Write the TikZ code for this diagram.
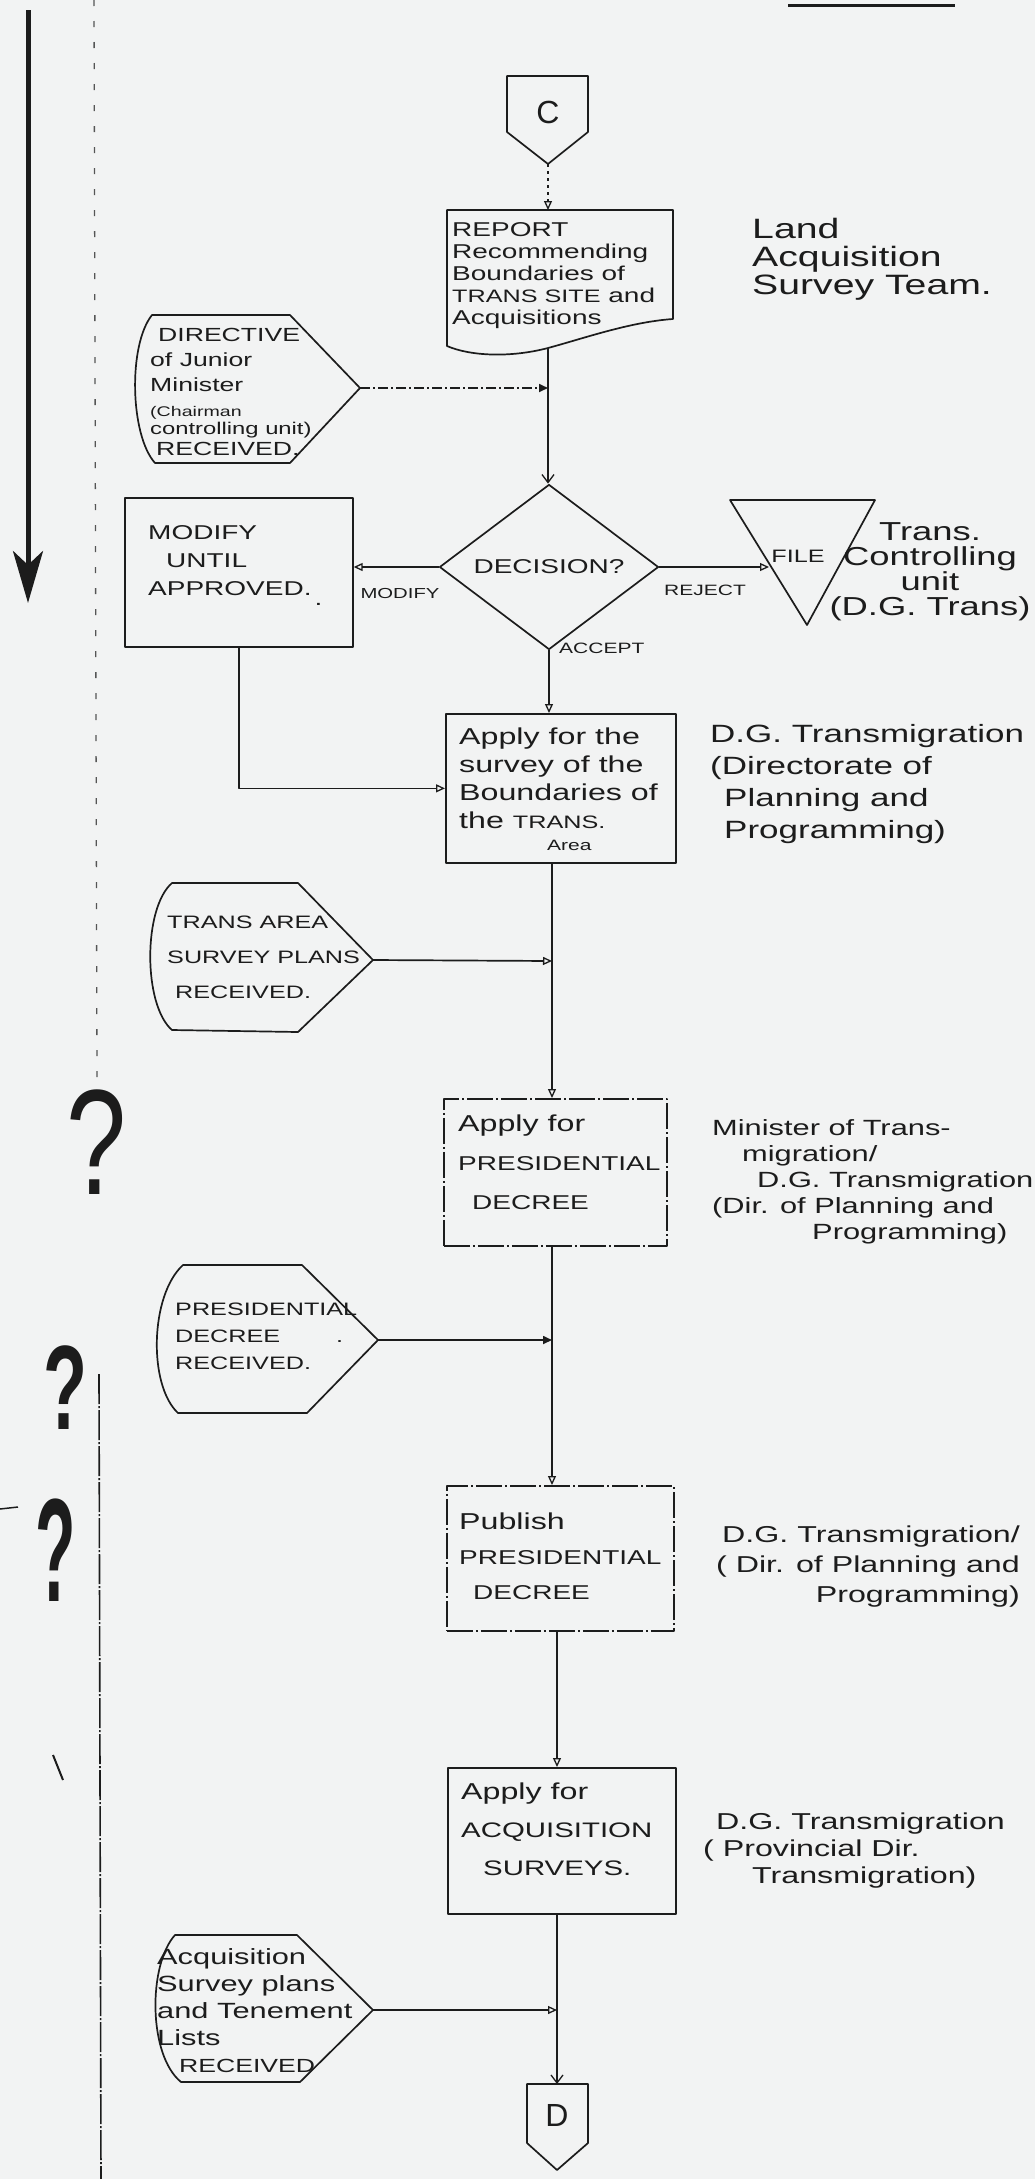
\documentclass[tikz,border=0pt]{standalone}
\usepackage{fontspec}
\setmainfont{Liberation Sans}[FakeStretch=1.4]
\newfontfamily\qfont{Liberation Sans}
\usetikzlibrary{arrows.meta,shapes.geometric,calc}
\definecolor{paper}{RGB}{242,243,243}
\definecolor{ink}{RGB}{28,28,28}
\newcommand\fsz[2]{\fontsize{#1}{#2}\selectfont}
\begin{document}
\begin{tikzpicture}[x=1pt,y=-1pt,ink,line join=round,
  flow/.style={draw=ink,line width=1.7pt},
  box/.style={draw=ink,line width=1.7pt,rectangle,inner sep=0,anchor=north west},
  brokenbox/.style={box,dash pattern=on 26pt off 3pt on 2pt off 3pt},
  txt/.style={inner sep=0,align=left,anchor=west,text=ink},
  lbl/.style={inner sep=0,text=ink},
  dashdot/.style={dash pattern=on 10pt off 3pt on 2pt off 3pt},
  arr/.style={-{Triangle[open,length=9pt,width=8pt,line width=1.3pt]}},
  farr/.style={-{Triangle[length=9pt,width=8pt]}},
  barb/.style={-{Straight Barb[length=8pt,width=12pt,line width=1.3pt]}}]
\fill[paper] (0,0) rectangle (1035,2179);
\useasboundingbox (0,0) rectangle (1035,2179);

% margin marks
\draw[line width=3pt] (788,5) -- (955,5);
\draw[line width=5pt,-{Stealth[length=52pt,width=30pt,inset=14pt]}] (28,10) -- (28,603);
\draw[ink!75,line width=1.3pt,dash pattern=on 6pt off 15pt] (94,0) -- (97,1083);
\draw[line width=1.6pt,dash pattern=on 30pt off 2pt on 2pt off 2pt] (99,1374) -- (101,2179);
\draw[line width=2pt] (53,1755) -- (63,1780);
\draw[line width=1.5pt] (0,1509) -- (18,1507);
\node[lbl] (q1) at (97,1142) {\qfont\fsz{150}{150}\scalebox{0.72}[1]{?}};
\node[lbl] (q2) at (65,1388) {\qfont\bfseries\fsz{120}{120}\scalebox{0.6}[1]{?}};
\node[lbl] (q3) at (56,1550) {\qfont\bfseries\fsz{147}{147}\scalebox{0.45}[1]{?}};

% connector C
\draw[flow] (507,76) -- (588,76) -- (588,132) -- (548,164) -- (507,132) -- cycle;
\node[lbl,font=\qfont\fsz{32}{32}] (C) at (548,112) {C};
\coordinate (Ctip) at (548,164);

% REPORT document
\draw[flow] (447,210) -- (673,210) -- (673,319) .. controls (630,322) and (585,338) .. (548,348)
  .. controls (510,358) and (470,356) .. (447,346) -- cycle;
\coordinate (repin) at (548,210);
\coordinate (repout) at (548,348);
\node[txt,font=\fsz{20}{22}] (report) at (452,276)
  {REPORT\\Recommending\\Boundaries of\\{\fsz{18}{22}TRANS SITE} and\\Acquisitions};
\node[txt,font=\fsz{28}{28}] (land) at (752,259) {Land\\Acquisition\\Survey Team.};

% DIRECTIVE
\draw[flow] (152,315) -- (290,315) -- (360,388) -- (290,463) -- (155,463)
  .. controls (130,435) and (128,345) .. (152,315) -- cycle;
\coordinate (dirpt) at (360,388);
\node[txt,font=\fsz{19}{25}] (dirtext) at (150,392)
  {\hspace*{8pt}DIRECTIVE\\of Junior\\Minister\\{\fsz{14}{14}(Chairman}\\[-7pt]{\fsz{17}{17}controlling unit)}\\[-4pt]\hspace*{6pt}RECEIVED.};
\coordinate (j1) at (548,388);

% decision
\node[draw=ink,line width=1.7pt,diamond,minimum width=219pt,minimum height=142pt,inner sep=0,font=\fsz{20}{20}] (dec) at (549,567) {DECISION?};

% FILE
\draw[flow] (730,500) -- (875,500) -- (807,625) -- cycle;
\node[lbl,font=\fsz{18}{18}] (file) at (798,556) {FILE};
\coordinate (filein) at (769,567);
\node[lbl,align=center,font=\fsz{26}{25}] (fileorg) at (930,572) {Trans.\\Controlling\\unit\\(D.G. Trans)};

% MODIFY
\node[box,minimum width=228pt,minimum height=149pt] (modbox) at (124,497) {};
\node[txt,font=\fsz{20}{28}] (modtext) at (148,566) {MODIFY\\\hspace*{18pt}UNTIL\\APPROVED.\hspace{3pt}\raisebox{-10pt}{.}};

% labels on branches
\node[lbl,font=\fsz{14.5}{15}] (modlbl) at (400,594) {MODIFY};
\node[lbl,font=\fsz{15}{15}] (rejlbl) at (705,590) {REJECT};
\node[lbl,anchor=west,font=\fsz{15}{15}] (acclbl) at (559,648) {ACCEPT};

% survey box
\node[box,minimum width=230pt,minimum height=149pt] (survey) at (445,713) {};
\node[txt,font=\fsz{23}{28}] (surtext) at (459,789)
  {Apply for the\\survey of the\\Boundaries of\\the {\fsz{18}{18}TRANS.}\\[-6pt]\hspace*{88pt}{\fsz{15}{15}Area}};
\node[txt,font=\fsz{25}{32}] (dg1) at (710,784)
  {D.G. Transmigration\\(Directorate of\\\hspace*{14pt}Planning and\\\hspace*{14pt}Programming)};

% TRANS AREA received
\draw[flow] (172,883) -- (298,883) -- (373,960) -- (298,1032) -- (172,1030)
  .. controls (143,1005) and (143,908) .. (172,883) -- cycle;
\coordinate (tapt) at (373,960);
\node[txt,font=\fsz{18}{35}] (tatext) at (167,957) {TRANS AREA\\SURVEY PLANS\\\hspace*{8pt}RECEIVED.};
\coordinate (j2) at (552,961);

% presidential decree application
\node[brokenbox,minimum width=223pt,minimum height=147pt] (pres) at (443,1098) {};
\node[txt,font=\fsz{20}{39}] (prestext) at (458,1162) {{\fsz{23}{39}Apply for}\\PRESIDENTIAL\\\hspace*{14pt}DECREE};
\node[txt,font=\fsz{22}{26}] (minlbl) at (712,1182)
  {Minister of Trans-\\\hspace*{30pt}migration/\\\hspace*{45pt}D.G. Transmigration\\(Dir. of Planning and\\\hspace*{100pt}Programming)};

% presidential decree received
\draw[flow] (183,1265) -- (302,1265) -- (378,1340) -- (307,1413) -- (178,1413)
  .. controls (148,1385) and (150,1295) .. (183,1265) -- cycle;
\coordinate (ppt) at (378,1340);
\node[txt,font=\fsz{18}{27}] (prtext) at (175,1336) {PRESIDENTIAL\\DECREE\hspace{56pt}.\\RECEIVED.};
\coordinate (j3) at (552,1340);

% publish
\node[brokenbox,minimum width=227pt,minimum height=145pt] (pub) at (446,1485) {};
\node[txt,font=\fsz{20}{35}] (pubtext) at (459,1556) {{\fsz{23}{35}Publish}\\PRESIDENTIAL\\\hspace*{14pt}DECREE};
\node[lbl,align=right,anchor=east,font=\fsz{23}{30}] (dg2) at (1020,1567)
  {D.G. Transmigration/\\( Dir. of Planning and\\Programming)};

% acquisition surveys
\node[box,minimum width=228pt,minimum height=146pt] (acq) at (447,1767) {};
\node[txt,font=\fsz{21}{38}] (acqtext) at (461,1829) {{\fsz{23}{38}Apply for}\\ACQUISITION\\\hspace*{22pt}SURVEYS.};
\node[txt,font=\fsz{23}{27}] (dg3) at (703,1851)
  {\hspace*{13pt}D.G. Transmigration\\( Provincial Dir.\\\hspace*{49pt}Transmigration)};

% acquisition plans received
\draw[flow] (175,1935) -- (297,1935) -- (373,2010) -- (300,2082) -- (181,2082)
  .. controls (148,2055) and (148,1965) .. (175,1935) -- cycle;
\coordinate (acqpt) at (373,2010);
\node[txt,font=\fsz{22}{27}] (aptext) at (157,2011)
  {Acquisition\\Survey plans\\and Tenement\\Lists\\\hspace*{22pt}{\fsz{19}{27}RECEIVED}};
\coordinate (j4) at (557,2010);

% connector D
\draw[flow] (527,2084) -- (588,2084) -- (588,2143) -- (557,2170) -- (527,2143) -- cycle;
\node[lbl,font=\qfont\fsz{32}{32}] (D) at (557,2115) {D};
\coordinate (Dtop) at (557,2084);

% flow lines
\draw[flow,dash pattern=on 3pt off 4pt,arr] (Ctip) -- (repin);
\draw[flow,barb] (repout) -- (repout |- dec.north);
\draw[flow,dashdot,farr] (dirpt) -- (j1);
\draw[flow,arr] (dec.east) -- (filein);
\draw[flow,arr] (dec.west) -- (dec.west -| modbox.east);
\draw[flow,arr] (dec.south) -- (dec.south |- survey.north);
\draw[flow,arr] (modbox.south) |- (survey.west);
\draw[flow,arr] (survey.south -| j2) -- (pres.north -| j2);
\draw[flow,arr] (tapt) -- (j2);
\draw[flow,arr] (pres.south -| j3) -- (pub.north -| j3);
\draw[flow,farr] (ppt) -- (j3);
\draw[flow,arr] (pub.south -| j4) -- (acq.north -| j4);
\draw[flow,barb] (acq.south -| j4) -- (Dtop);
\draw[flow,arr] (acqpt) -- (j4);
\end{tikzpicture}
\end{document}
